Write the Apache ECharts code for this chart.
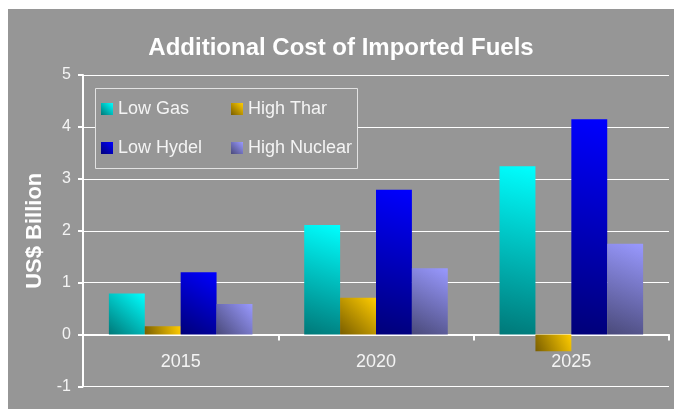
<!DOCTYPE html>
<html lang="en">
<head>
  <meta charset="utf-8">
  <style>
    body { margin: 0; background: #ffffff; }
    #container {
      position: absolute;
      left: 8px;
      top: 9px;
      width: 666px;
      height: 400px;
      background: #969696;
    }
  </style>
</head>
<body>
  <div id="container"></div>
  <script src="https://cdn.jsdelivr.net/npm/echarts@6/dist/echarts.min.js"></script>
  <script>
    // data
    var years = ['2015', '2020', '2025'];
    var lowGas = [0.79, 2.11, 3.24];
    var highThar = [0.16, 0.71, -0.32];
    var lowHydel = [1.2, 2.79, 4.15];
    var highNuclear = [0.59, 1.28, 1.75];

    var chart = echarts.init(document.getElementById('container'), null, { renderer: 'canvas' });

    function grad(dark, bright) {
      return new echarts.graphic.LinearGradient(0, 1, 1, 0, [
        { offset: 0, color: dark },
        { offset: 1, color: bright }
      ]);
    }

    var textCol = '#f4f4f4';
    var font = 'Arial, "Liberation Sans", sans-serif';

    function bar(name, data, dark, bright) {
      return {
        name: name,
        type: 'bar',
        data: data,
        barGap: '0%',
        barCategoryGap: '26.5%',
        itemStyle: { color: grad(dark, bright) }
      };
    }

    var legendCommon = {
      orient: 'vertical',
      top: 91,
      itemWidth: 12,
      itemHeight: 12,
      itemGap: 21,
      icon: 'rect',
      padding: 0,
      textStyle: { color: textCol, fontSize: 18, fontFamily: font, lineHeight: 18 }
    };

    chart.setOption({
      backgroundColor: 'transparent',
      animation: false,
      title: {
        text: 'Additional Cost of Imported Fuels',
        left: 'center',
        top: 27,
        padding: 0,
        textStyle: { color: '#ffffff', fontSize: 24, fontWeight: 'bold', fontFamily: font }
      },
      graphic: [{
        type: 'rect',
        z: 50,
        shape: { x: 87.5, y: 79.5, width: 262, height: 80 },
        style: { fill: '#969696', stroke: '#e2e2e2', lineWidth: 1 }
      }],
      legend: [
        Object.assign({ left: 93, data: ['Low Gas', 'Low Hydel'], z: 60 }, legendCommon),
        Object.assign({ left: 223, data: ['High Thar', 'High Nuclear'], z: 60 }, legendCommon)
      ],
      grid: { left: 75, right: 5, top: 66, bottom: 22.5, outerBoundsMode: 'none' },
      xAxis: {
        type: 'category',
        data: years,
        offset: -51.9,
        axisLine: { onZero: false, lineStyle: { color: '#ffffff', width: 2 } },
        axisTick: { show: true, length: 6, lineStyle: { color: '#ffffff', width: 2 } },
        axisLabel: { color: textCol, fontSize: 18, fontFamily: font, margin: 18 }
      },
      yAxis: {
        type: 'value',
        min: -1,
        max: 5,
        interval: 1,
        name: 'US$ Billion',
        nameLocation: 'middle',
        nameRotate: 90,
        nameGap: 37,
        nameTextStyle: { color: '#ffffff', fontSize: 22, fontWeight: 'bold', fontFamily: font },
        axisLine: { show: true, lineStyle: { color: '#ffffff', width: 2 } },
        axisTick: { show: true, length: 5, lineStyle: { color: '#ffffff', width: 2 } },
        axisLabel: { color: textCol, fontSize: 16, fontFamily: font, margin: 12 },
        splitLine: { show: true, lineStyle: { color: '#ffffff', width: 1 } }
      },
      series: [
        bar('Low Gas', lowGas, '#007878', '#00ffff'),
        bar('High Thar', highThar, '#7a5e00', '#ffcc00'),
        bar('Low Hydel', lowHydel, '#000078', '#0000ff'),
        bar('High Nuclear', highNuclear, '#4a4a7a', '#9999ff')
      ]
    });

    window.addEventListener('resize', chart.resize);
  </script>
</body>
</html>
